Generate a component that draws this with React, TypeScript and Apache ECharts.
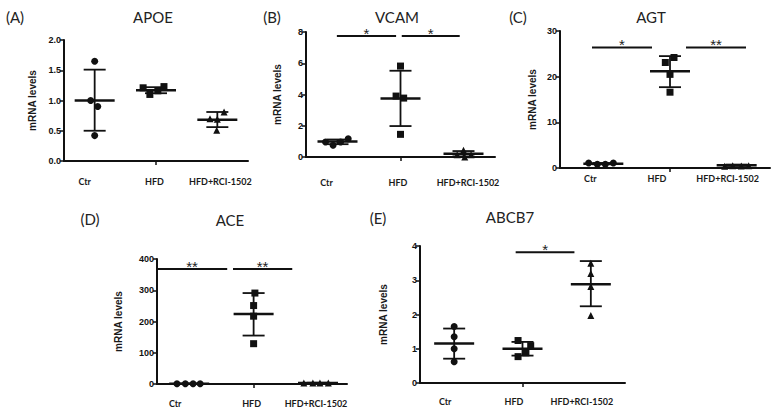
import React, { useEffect, useRef } from "react";
import * as echarts from "echarts";

const categories = ["Ctr", "HFD", "HFD+RCI-1502"];

// APOE
const apoeValues = [[1.65, 1.0, 0.9, 0.42], [1.21, 1.1, 1.16, 1.23], [0.81, 0.7, 0.69, 0.51]];
const apoeJitter = [[0, -0.065, 0.05, 0], [-0.21, -0.1, 0.03, 0.13], [0.11, -0.12, 0, -0.01]];
const apoeMean = [1.0, 1.17, 0.68];
const apoeLow = [0.5, 1.12, 0.56];
const apoeHigh = [1.51, 1.22, 0.81];
const apoeSig: [number, number, number, string][] = [];

// VCAM
const vcamValues = [[0.96, 0.75, 0.96, 1.17], [5.82, 3.9, 3.77, 1.45], [0.43, 0.15, 0.0, 0.15]];
const vcamJitter = [[-0.19, -0.07, 0.05, 0.17], [0, -0.07, 0.05, 0], [0, -0.1, 0.02, 0.12]];
const vcamMean = [1.0, 3.75, 0.21];
const vcamLow = [0.82, 1.98, 0.04];
const vcamHigh = [1.12, 5.52, 0.38];
const vcamSig: [number, number, number, string][] = [[0.99, 1.93, 7.74, "*"], [2.02, 2.94, 7.74, "*"]];

// AGT
const agtValues = [[1.1, 0.8, 0.8, 1.1], [24.2, 23.1, 20.5, 16.6], [0.4, 0.5, 0.45, 0.5]];
const agtJitter = [[-0.22, -0.09, 0.03, 0.15], [0.06, -0.07, 0, 0], [-0.18, -0.06, 0.07, 0.18]];
const agtMean = [0.95, 21.2, 0.6];
const agtLow = [0.8, 17.7, 0.45];
const agtHigh = [1.1, 24.5, 0.75];
const agtSig: [number, number, number, string][] = [[0.83, 1.73, 26.4, "*"], [2.24, 3.14, 26.4, "**"]];

// ACE
const aceValues = [[1, 1, 1, 1], [291, 251, 217, 129], [3, 3, 3, 3]];
const aceJitter = [[-0.19, -0.06, 0.06, 0.17], [0.02, 0, 0, 0], [-0.22, -0.08, 0.03, 0.16]];
const aceMean = [1, 224, 3];
const aceLow = [0.5, 155, 2];
const aceHigh = [1.5, 291, 4];
const aceSig: [number, number, number, string][] = [[0.5, 1.59, 368, "**"], [1.68, 2.6, 368, "**"]];

// ABCB7
const abcValues = [[1.65, 1.35, 1.0, 0.62], [1.24, 1.09, 0.88, 0.77], [3.5, 3.2, 2.82, 1.97]];
const abcJitter = [[0, 0, 0, 0], [-0.065, 0.12, 0.05, -0.065], [0, 0, 0, 0]];
const abcMean = [1.15, 1.0, 2.88];
const abcLow = [0.71, 0.8, 2.24];
const abcHigh = [1.59, 1.2, 3.56];
const abcSig: [number, number, number, string][] = [[1.9, 2.76, 3.82, "*"]];

const yTicks = {
  APOE: { max: 2, interval: 0.5, decimals: 1 },
  VCAM: { max: 8, interval: 2, decimals: 0 },
  AGT: { max: 30, interval: 10, decimals: 0 },
  ACE: { max: 400, interval: 100, decimals: 0 },
  ABCB7: { max: 4, interval: 1, decimals: 0 },
};

const panels = [
  { letter: "(A)", title: "APOE", values: apoeValues, jitter: apoeJitter, mean: apoeMean, low: apoeLow, high: apoeHigh, sig: apoeSig, ticks: yTicks.APOE,
    grid: { left: 64, top: 40, width: 184, height: 121 }, xMin: 0.5, xMax: 3.5, labelMargin: 16, labelShift: [-10, -1.5, 3], nameGap: 27,
    letterPos: [15, 17], titlePos: [153, 17] },
  { letter: "(B)", title: "VCAM", values: vcamValues, jitter: vcamJitter, mean: vcamMean, low: vcamLow, high: vcamHigh, sig: vcamSig, ticks: yTicks.VCAM,
    grid: { left: 306, top: 32, width: 189, height: 125 }, xMin: 0.5, xMax: 3.5, labelMargin: 21, labelShift: [-11, -2.5, 4.5], nameGap: 24,
    letterPos: [272, 17], titlePos: [397, 17] },
  { letter: "(C)", title: "AGT", values: agtValues, jitter: agtJitter, mean: agtMean, low: agtLow, high: agtHigh, sig: agtSig, ticks: yTicks.AGT,
    grid: { left: 560, top: 31, width: 210, height: 137 }, xMin: 0.35, xMax: 3.5, labelMargin: 6, labelShift: [-13, -13, -9], nameGap: 23,
    letterPos: [518, 17], titlePos: [651, 17] },
  { letter: "(D)", title: "ACE", values: aceValues, jitter: aceJitter, mean: aceMean, low: aceLow, high: aceHigh, sig: aceSig, ticks: yTicks.ACE,
    grid: { left: 157, top: 259, width: 190, height: 125 }, xMin: 0.5, xMax: 3.45, labelMargin: 15, labelShift: [-14, -2, -2], nameGap: 34,
    letterPos: [90, 219], titlePos: [230, 220] },
  { letter: "(E)", title: "ABCB7", values: abcValues, jitter: abcJitter, mean: abcMean, low: abcLow, high: abcHigh, sig: abcSig, ticks: yTicks.ABCB7,
    grid: { left: 420, top: 246, width: 205, height: 137 }, xMin: 0.5, xMax: 3.5, labelMargin: 14, labelShift: [-9, -8.5, -9], nameGap: 32,
    letterPos: [378, 218], titlePos: [510, 217] },
];

const INK = "#111";
const symbols = ["circle", "rect", "triangle"];
const symbolSizes = [7, 7, 7];

function buildOption() {
  const graphic: any[] = [];
  const grid: any[] = [];
  const xAxis: any[] = [];
  const yAxis: any[] = [];
  const series: any[] = [];

  panels.forEach((p, i) => {
    graphic.push({
      type: "text", x: p.letterPos[0], y: p.letterPos[1],
      style: { text: p.letter, font: "15px Lato", fill: "#222", align: "center", verticalAlign: "middle" },
    });
    graphic.push({
      type: "text", x: p.titlePos[0], y: p.titlePos[1],
      style: { text: p.title, font: "15px Lato", fill: "#222", align: "center", verticalAlign: "middle" },
    });
    grid.push({ ...p.grid, outerBoundsMode: "none", containLabel: false });

    const rich: any = {};
    p.labelShift.forEach((s, k) => {
      rich["c" + k] = {
        fontFamily: "Lato", fontWeight: "bold", fontSize: 9, color: "#1a1a1a",
        padding: s < 0 ? [0, -2 * s, 0, 0] : [0, 0, 0, 2 * s],
      };
    });

    xAxis.push({
      gridIndex: i, type: "value", min: p.xMin, max: p.xMax,
      splitLine: { show: false },
      axisLine: { show: true, onZero: false, lineStyle: { color: INK, width: 2 } },
      axisTick: { show: true, customValues: [2], length: 4, lineStyle: { color: INK, width: 1.5 } },
      axisLabel: {
        customValues: [1, 2, 3], margin: p.labelMargin, rich,
        formatter: (v: number) => {
          const k = Math.round(v) - 1;
          return `{c${k}|${categories[k]}}`;
        },
      },
    });
    yAxis.push({
      gridIndex: i, type: "value", min: 0, max: p.ticks.max, interval: p.ticks.interval,
      splitLine: { show: false },
      axisLine: { show: true, lineStyle: { color: INK, width: 2 } },
      axisTick: { show: true, length: 4, lineStyle: { color: INK, width: 1.5 } },
      axisLabel: {
        margin: 3, fontFamily: "Liberation Sans", fontWeight: "bold", fontSize: 9, color: "#111",
        formatter: (v: number) => v.toFixed(p.ticks.decimals),
      },
      name: "mRNA levels", nameLocation: "middle", nameGap: p.nameGap, nameRotate: 90,
      nameTextStyle: { fontFamily: "Liberation Sans", fontWeight: "bold", fontSize: 10, color: "#1a1a1a" },
    });

    p.values.forEach((vals, g) => {
      series.push({
        type: "scatter", xAxisIndex: i, yAxisIndex: i,
        symbol: symbols[g], symbolSize: symbolSizes[g],
        itemStyle: { color: INK, opacity: 1 },
        data: vals.map((v, k) => [g + 1 + p.jitter[g][k], v]),
        z: 4,
      });
    });

    series.push({
      type: "custom", xAxisIndex: i, yAxisIndex: i, clip: false, z: 3,
      encode: { x: 0, y: [1, 2, 3] },
      data: p.mean.map((m, g) => [g + 1, m, p.low[g], p.high[g]]),
      renderItem: (params: any, api: any) => {
        const x = api.value(0);
        const pm = api.coord([x, api.value(1)]);
        const pl = api.coord([x, api.value(2)]);
        const ph = api.coord([x, api.value(3)]);
        const st = { stroke: INK, lineWidth: 1.8 };
        return {
          type: "group",
          children: [
            { type: "line", shape: { x1: pl[0], y1: pl[1], x2: ph[0], y2: ph[1] }, style: st },
            { type: "line", shape: { x1: pl[0] - 11, y1: pl[1], x2: pl[0] + 11, y2: pl[1] }, style: st },
            { type: "line", shape: { x1: ph[0] - 11, y1: ph[1], x2: ph[0] + 11, y2: ph[1] }, style: st },
            { type: "line", shape: { x1: pm[0] - 20, y1: pm[1], x2: pm[0] + 20, y2: pm[1] }, style: { stroke: INK, lineWidth: 2.5 } },
          ],
        };
      },
    });

    if (p.sig.length) {
      const sigLabels = p.sig.map((s) => s[3]);
      series.push({
        type: "custom", xAxisIndex: i, yAxisIndex: i, clip: false, z: 3,
        encode: { x: [0, 1], y: 2 },
        data: p.sig.map((s) => [s[0], s[1], s[2]]),
        renderItem: (params: any, api: any) => {
          const a = api.coord([api.value(0), api.value(2)]);
          const b = api.coord([api.value(1), api.value(2)]);
          return {
            type: "group",
            children: [
              { type: "line", shape: { x1: a[0], y1: a[1], x2: b[0], y2: b[1] }, style: { stroke: INK, lineWidth: 2 } },
              {
                type: "text", x: (a[0] + b[0]) / 2, y: a[1] + 5,
                style: { text: sigLabels[params.dataIndex], font: "15px Liberation Sans", fill: "#222", align: "center", verticalAlign: "bottom" },
              },
            ],
          };
        },
      });
    }
  });

  return { animation: false, backgroundColor: "#fff", graphic, grid, xAxis, yAxis, series };
}

export default function App() {
  const ref = useRef<HTMLDivElement>(null);
  useEffect(() => {
    if (!ref.current) return;
    const chart = echarts.init(ref.current, undefined, { renderer: "svg" });
    chart.setOption(buildOption() as any);
    return () => chart.dispose();
  }, []);
  return <div ref={ref} style={{ position: "absolute", left: 0, top: 0, width: 775, height: 416 }} />;
}
